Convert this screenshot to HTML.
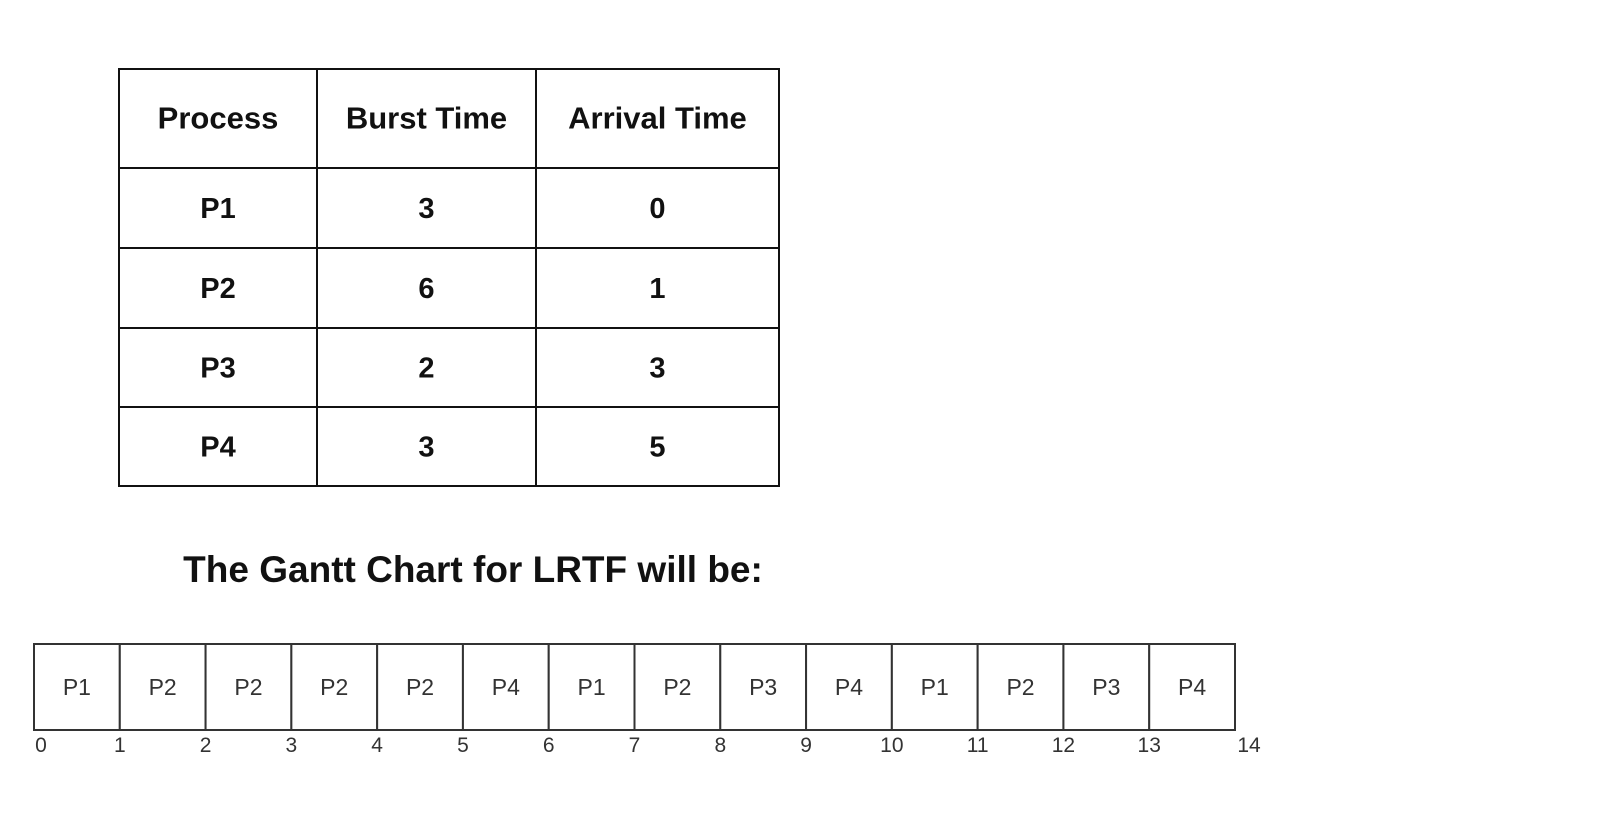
<!DOCTYPE html>
<html><head><meta charset="utf-8"><style>
body{margin:0;background:#fff;width:1600px;height:828px;overflow:hidden;font-family:"Liberation Sans",Arial,sans-serif;}
svg{display:block}
</style></head><body>
<svg id="c" width="1600" height="828">
<g id="table"></g>
<text x="473" y="582" text-anchor="middle" font-size="37" font-weight="bold" fill="#111">The Gantt Chart for LRTF will be:</text>
<g id="gantt"></g>
</svg>
<script>
const headers=["Process","Burst Time","Arrival Time"];
const processes=["P1","P2","P3","P4"];
const burst=[3,6,2,3];
const arrival=[0,1,3,5];
const sequence=["P1","P2","P2","P2","P2","P4","P1","P2","P3","P4","P1","P2","P3","P4"];
const tickLabels=["0","1","2","3","4","5","6","7","8","9","10","11","12","13","14"];
const NS="http://www.w3.org/2000/svg";
function mk(t,a,p){const e=document.createElementNS(NS,t);for(const k in a)e.setAttribute(k,a[k]);p.appendChild(e);return e;}
const tg=document.getElementById('table');
const colX=[119,317,536,779], rowY=[69,168,248,328,407,486];
const rows=[headers].concat(processes.map((p,i)=>[p,String(burst[i]),String(arrival[i])]));
mk('rect',{x:colX[0],y:rowY[0],width:colX[3]-colX[0],height:rowY[5]-rowY[0],fill:'none',stroke:'#111','stroke-width':2},tg);
colX.slice(1,3).forEach(x=>mk('line',{x1:x,x2:x,y1:rowY[0],y2:rowY[5],stroke:'#111','stroke-width':2},tg));
rowY.slice(1,5).forEach(y=>mk('line',{x1:colX[0],x2:colX[3],y1:y,y2:y,stroke:'#111','stroke-width':2},tg));
rows.forEach((r,ri)=>r.forEach((v,ci)=>{
 const t=mk('text',{x:(colX[ci]+colX[ci+1])/2,y:(rowY[ri]+rowY[ri+1])/2+(ri===0?10:10),'text-anchor':'middle','font-size':ri===0?31:29,'font-weight':'bold',fill:'#111'},tg);
 t.textContent=v;
 
 
}));
const gg=document.getElementById('gantt');
const x0=34,x1=1235,gy0=644,gy1=730;
const xs=t=>x0+(x1-x0)*t/sequence.length;
sequence.forEach((p,i)=>{
 const r=mk('rect',{x:xs(i),y:gy0,width:xs(i+1)-xs(i),height:gy1-gy0,fill:'#fff',stroke:'#333','stroke-width':2},gg);
 
 
 const t=mk('text',{x:(xs(i)+xs(i+1))/2,y:(gy0+gy1)/2+8,'text-anchor':'middle','font-size':23,fill:'#333'},gg);
 t.textContent=p;
 
 
});
tickLabels.forEach((l,i)=>{
 const t=mk('text',{x:xs(i)+(i===0?7:(i===tickLabels.length-1?14:0)),y:752,'text-anchor':'middle','font-size':21,fill:'#333'},gg);
 t.textContent=l;
 
 
});
</script>
</body></html>
